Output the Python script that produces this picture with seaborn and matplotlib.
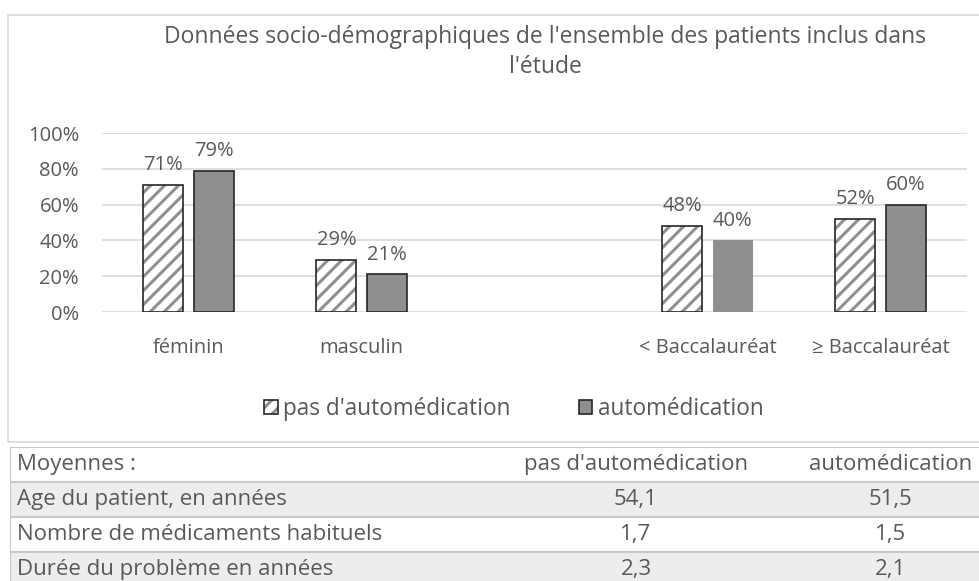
import matplotlib
matplotlib.use("Agg")
import matplotlib.pyplot as plt
from matplotlib.patches import Rectangle, Patch
from matplotlib.colors import to_rgba
import pandas as pd
import seaborn as sns

# data
categories = ["féminin", "masculin", " ", "< Baccalauréat", "≥ Baccalauréat"]
groups = ["pas d'automédication", "automédication"]
no_auto = [71, 29, None, 48, 52]
auto = [79, 21, None, 40, 60]

table_header = ["Moyennes :", "pas d'automédication", "automédication"]
table_rows = ["Age du patient, en années", "Nombre de médicaments habituels", "Durée du problème en années"]
table_no_auto = ["54,1", "1,7", "2,3"]
table_auto = ["51,5", "1,5", "2,1"]

title = "Données socio-démographiques de l'ensemble des patients inclus dans\nl'étude"

TXT = "#595959"
BAR = "#8e8f91"
GRID = "#d9d9d9"

# lower dpi so the hatch comes out as dense as in the original
DPI = 84
S = 100 / DPI  # sizes below are written for 100 dpi


def pt(x):
    return x * S


sns.set_style("white")
plt.rcParams["font.family"] = ["Open Sans", "DejaVu Sans"]
plt.rcParams["hatch.linewidth"] = 2.6

rows = []
for cat, a, b in zip(categories, no_auto, auto):
    if a is not None:
        rows.append({"cat": cat, "grp": groups[0], "val": a / 100})
        rows.append({"cat": cat, "grp": groups[1], "val": b / 100})
df = pd.DataFrame(rows)

W, H = 979, 581
fig = plt.figure(figsize=(W / DPI, H / DPI), dpi=DPI)

# chart frame
fig.patches.append(Rectangle((8 / W, 1 - 442 / H), 1.2, (442 - 15) / H, transform=fig.transFigure,
                             fill=False, edgecolor=GRID, linewidth=pt(1.2)))

ax = fig.add_axes([102 / W, 1 - 312 / H, 865 / W, 179 / H])
sns.barplot(data=df, x="cat", y="val", hue="grp", order=categories, hue_order=groups,
            palette=["white", BAR], width=0.58, gap=0.2, edgecolor="#262626", linewidth=pt(1.2),
            ax=ax, legend=False)

for p in ax.containers[0]:
    p.set_hatch("//")
    try:
        p.set_hatchcolor(BAR)
    except AttributeError:
        p._hatch_color = to_rgba(BAR)
# the 40% bar has no outline in the original
ax.containers[1][2].set_edgecolor("none")

for cont, vals in zip(ax.containers, [no_auto, auto]):
    ax.bar_label(cont, labels=[f"{v}%" for v in vals if v is not None], padding=pt(7),
                 fontsize=pt(14.5), color=TXT)

ax.set_ylim(0, 1)
ax.set_yticks([0, 0.2, 0.4, 0.6, 0.8, 1.0])
ax.set_yticklabels(["0%", "20%", "40%", "60%", "80%", "100%"])
ax.yaxis.grid(True, color=GRID, linewidth=pt(1.2))
ax.set_axisbelow(True)
sns.despine(ax=ax, left=True, bottom=True)
ax.set_xlabel("")
ax.set_ylabel("")
ax.tick_params(axis="both", length=0, labelsize=pt(14.5), colors=TXT)
ax.tick_params(axis="y", pad=pt(16.5))
ax.tick_params(axis="x", pad=pt(19))

fig.text(545 / W, 1 - 52 / H, title, ha="center", va="center", fontsize=pt(16.5),
         color=TXT, linespacing=1.3)

h1 = Patch(facecolor="white", edgecolor="#262626", hatch="//", linewidth=pt(1.2))
try:
    h1.set_hatchcolor(BAR)
except AttributeError:
    h1._hatch_color = to_rgba(BAR)
h2 = Patch(facecolor=BAR, edgecolor="#262626", linewidth=pt(1.2))
fig.legend([h1, h2], groups, loc="center", bbox_to_anchor=(514 / W, 1 - 409 / H), ncol=2,
           frameon=False, fontsize=pt(16.3), labelcolor=TXT, handlelength=0.6, handleheight=0.6,
           handletextpad=0.25, columnspacing=3.0)

# table below the chart
tax = fig.add_axes([10 / W, 0, (W - 10) / W, (H - 447) / H])
nrow = (H - 447) / 35
tax.set_xlim(0, W - 10)
tax.set_ylim(nrow, 0)
tax.axis("off")
for i in range(4):
    if i % 2 == 1:
        tax.axhspan(i, i + 1, color="#ededed", zorder=0)
    tax.axhline(i, color="#c9c9c9", linewidth=pt(1.5), zorder=1)
tax.axvline(0, color="#c9c9c9", linewidth=pt(1.5), zorder=1)

col_x = [7, 626, 881]
all_rows = [table_header] + [[r, a, b] for r, a, b in zip(table_rows, table_no_auto, table_auto)]
for i, row in enumerate(all_rows):
    tax.text(col_x[0], i + 0.5, row[0], ha="left", va="center", fontsize=pt(16), color=TXT)
    tax.text(col_x[1], i + 0.5, row[1], ha="center", va="center", fontsize=pt(16), color=TXT)
    tax.text(col_x[2], i + 0.5, row[2], ha="center", va="center", fontsize=pt(16), color=TXT)

fig.savefig("out.png", dpi=DPI)
